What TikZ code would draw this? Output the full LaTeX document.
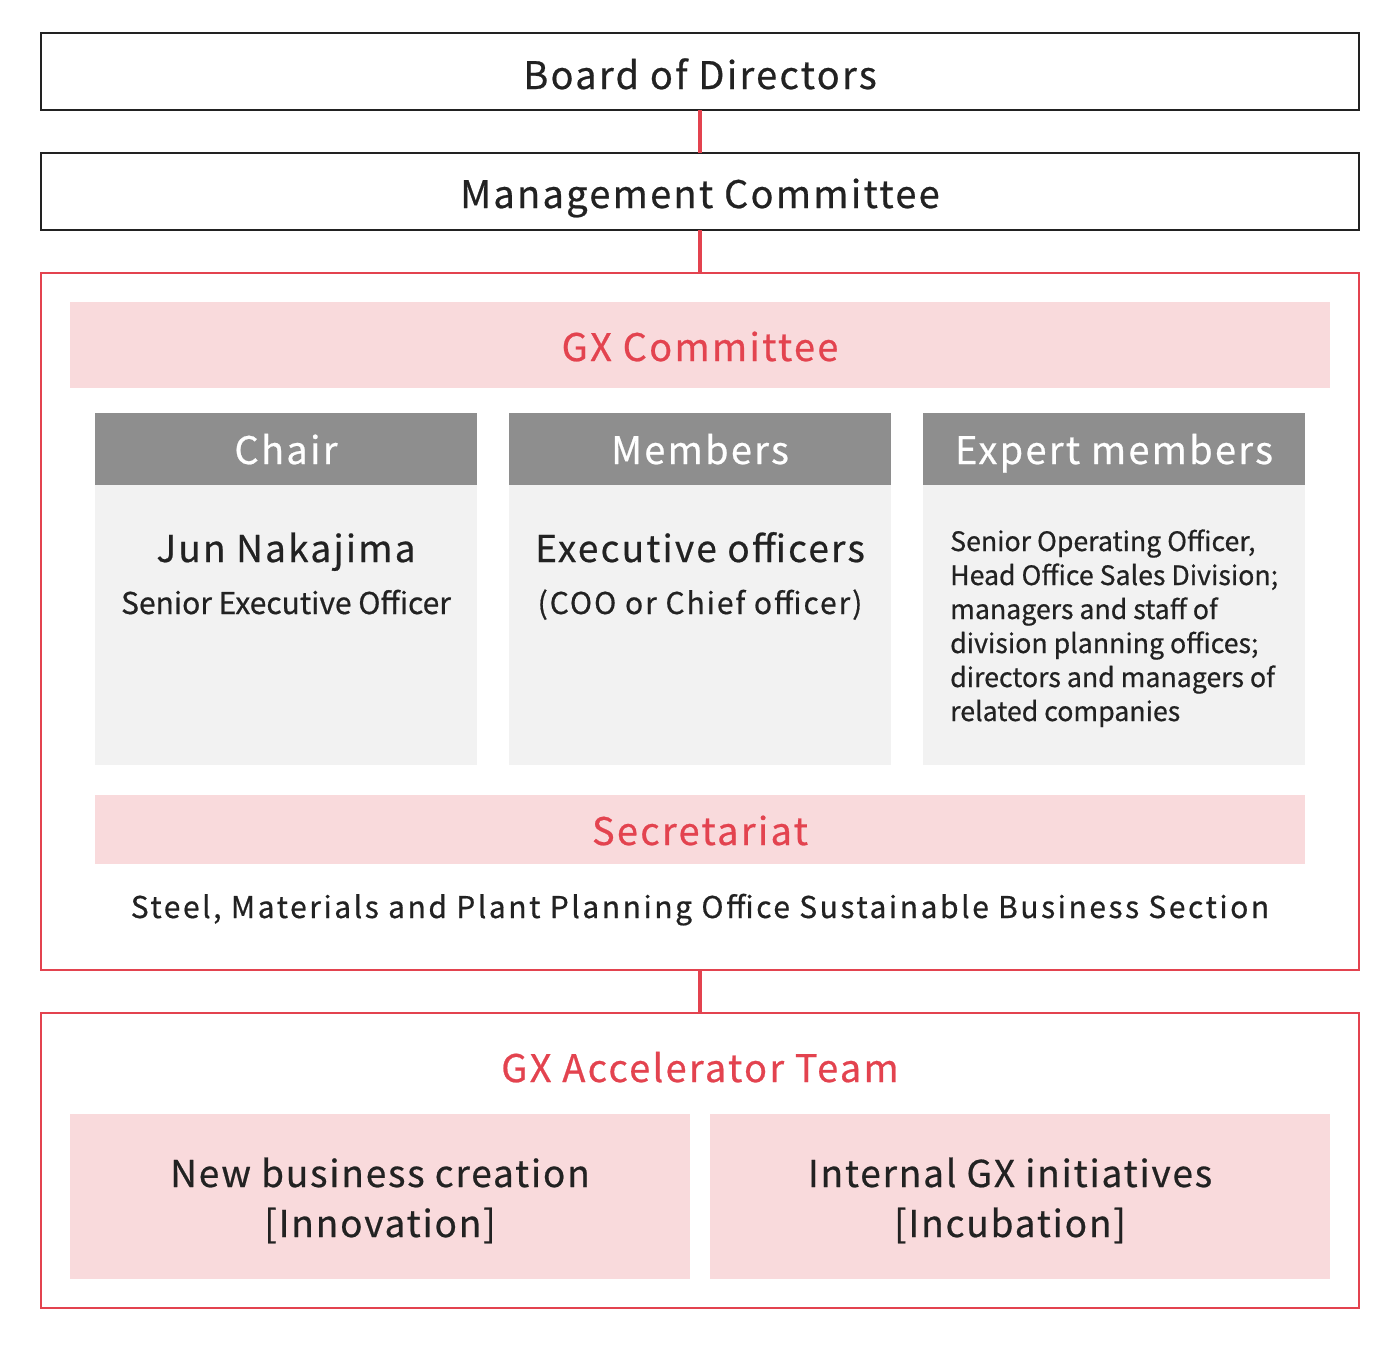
\documentclass[tikz,border=0pt]{standalone}
\usepackage{fontspec}
\setmainfont{Noto Sans CJK JP}[FakeBold=0.6]
\newfontfamily\spc{Noto Sans CJK JP}[LetterSpace=6,FakeBold=0.6]
\newfontfamily\spcs{Noto Sans CJK JP}[LetterSpace=6.5,FakeBold=0.6]
\newfontfamily\spcw{Noto Sans CJK JP}[LetterSpace=8.5,FakeBold=0.6]
\newfontfamily\spcn{Noto Sans CJK JP}[LetterSpace=5,FakeBold=0.6]
\definecolor{gxred}{HTML}{E3434F}
\definecolor{gxpink}{HTML}{F9DADC}
\definecolor{gxgray}{HTML}{8E8E8E}
\definecolor{gxlight}{HTML}{F2F2F2}
\definecolor{gxtext}{HTML}{222222}
\tikzset{
  blackbox/.style={draw=gxtext, line width=2pt, fill=white},
  redframe/.style={draw=gxred, line width=2pt},
  pinkband/.style={fill=gxpink, draw=none},
  headbox/.style={fill=gxgray, draw=none},
  bodybox/.style={fill=gxlight, draw=none},
  link/.style={draw=gxred, line width=4pt},
  txt/.style={anchor=base, inner sep=0pt},
  title/.style={txt, font=\spc\fontsize{38}{44}\selectfont, text=gxtext},
  redtitle/.style={txt, font=\spc\fontsize{38}{44}\selectfont, text=gxred},
  headtext/.style={txt, font=\spc\fontsize{38}{44}\selectfont, text=white},
  bigname/.style={txt, font=\spc\fontsize{37}{44}\selectfont, text=gxtext},
  subtext/.style={txt, font=\spcs\fontsize{30}{36}\selectfont, text=gxtext},
  twoline/.style={txt, font=\spcn\fontsize{37}{50}\selectfont, text=gxtext, align=center},
}
\begin{document}
\begin{tikzpicture}[x=1pt,y=-1pt]
\useasboundingbox (0,0) rectangle (1400,1350);
% top boxes
\path[blackbox] (41,33) rectangle (1359,110);
\node[title] (board) at (700,89) {Board of Directors};
\path[blackbox] (41,153) rectangle (1359,230);
\node[title] (mgmt) at (700,208) {Management Committee};
\coordinate (boardB) at (700,110);
\coordinate (mgmtT) at (700,153);
\coordinate (mgmtB) at (700,230);
\coordinate (gxT) at (700,273);
\coordinate (gxB) at (700,970);
\coordinate (accT) at (700,1013);
\draw[link] (boardB) -- (mgmtT);
\draw[link] (mgmtB) -- (gxT);
\draw[link] (gxB) -- (accT);
% GX committee frame
\path[redframe] (41,273) rectangle (1359,970);
\path[pinkband] (70,302) rectangle (1330,388);
\node[redtitle] (gxc) at (700,361) {GX Committee};
% columns
\path[headbox] (95,413) rectangle (477,485);
\path[bodybox] (95,485) rectangle (477,765);
\path[headbox] (509,413) rectangle (891,485);
\path[bodybox] (509,485) rectangle (891,765);
\path[headbox] (923,413) rectangle (1305,485);
\path[bodybox] (923,485) rectangle (1305,765);
\node[headtext] (chair) at (286,464) {Chair};
\node[headtext] (members) at (700,464) {Members};
\node[headtext] (expert) at (1114,464) {Expert members};
\node[bigname] (jun) at (286,562) {Jun Nakajima};
\node[txt, font=\fontsize{30}{36}\selectfont, text=gxtext] (seo) at (286,614) {Senior Executive Officer};
\node[bigname] (exec) at (700,562) {Executive officers};
\node[subtext] (coo) at (700,614) {(COO or Chief officer)};
\node[font=\fontsize{26.7}{34}\selectfont, text=gxtext, anchor=base west, align=left, inner sep=0pt] (exptxt) at (950,721)
  {Senior Operating Officer,\\Head Office Sales Division;\\managers and staff of\\division planning offices;\\directors and managers of\\related companies};
% secretariat
\path[pinkband] (95,795) rectangle (1305,864);
\node[redtitle] (sec) at (700,845) {Secretariat};
\node[txt, font=\spcw\fontsize{30}{36}\selectfont, text=gxtext] (steel) at (700,918) {Steel, Materials and Plant Planning Office Sustainable Business Section};
% accelerator
\path[redframe] (41,1013) rectangle (1359,1308);
\node[redtitle] (acc) at (700,1082) {GX Accelerator Team};
\path[pinkband] (70,1114) rectangle (690,1279);
\path[pinkband] (710,1114) rectangle (1330,1279);
\node[twoline] (newbiz) at (380,1237) {New business creation\\{[}Innovation{]}};
\node[twoline] (internal) at (1010,1237) {Internal GX initiatives\\{[}Incubation{]}};
\end{tikzpicture}
\end{document}
